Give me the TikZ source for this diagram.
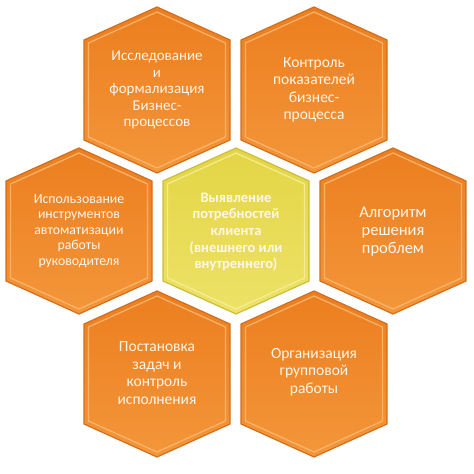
\documentclass[tikz,border=0pt]{standalone}
\usepackage{fontspec}
\setmainfont{Carlito}
\definecolor{orgtop}{HTML}{EC7E1F}
\definecolor{orgbot}{HTML}{F3963A}
\definecolor{orgline}{HTML}{D36F1C}
\definecolor{orgbevel}{HTML}{F9BC78}
\definecolor{yeltop}{HTML}{E4D545}
\definecolor{yelbot}{HTML}{EDE268}
\definecolor{yelline}{HTML}{CDBE3A}
\definecolor{yelbevel}{HTML}{F6F0A0}
\definecolor{txtcol}{HTML}{FFF6EA}
\newcommand\hexcell[4]{% cx, cy, colour prefix
  \shade[top color=#3top, bottom color=#3bot, draw=#3line, line width=1.2pt, line join=round]
    (#1,#2+83) -- (#1+73,#2+50) -- (#1+73,#2-50) -- (#1,#2-83) -- (#1-73,#2-50) -- (#1-73,#2+50) -- cycle;
  \draw[#3bevel, line width=1.3pt, line join=round, opacity=0.8]
    (#1,#2+78) -- (#1+68.5,#2+47) -- (#1+68.5,#2-47) -- (#1,#2-78) -- (#1-68.5,#2-47) -- (#1-68.5,#2+47) -- cycle;
}
\begin{document}
\begin{tikzpicture}[x=1pt,y=1pt,
  txt/.style={text=txtcol, align=center, inner sep=0pt}]
\useasboundingbox (0,0) rectangle (474,474);
\fill[white] (0,0) rectangle (474,474);
\hexcell{157}{384}{org}{}
\hexcell{314}{384}{org}{}
\hexcell{79}{243}{org}{}
\hexcell{236}{243}{yel}{}
\hexcell{393}{243}{org}{}
\hexcell{157}{100}{org}{}
\hexcell{314}{100}{org}{}
\node[txt, font=\fontsize{15}{16.5}\selectfont] (tl) at (157,384)
  {Исследование\\и\\формализация\\Бизнес-\\процессов};
\node[txt, font=\fontsize{15.5}{17.5}\selectfont] (tr) at (314,384)
  {Контроль\\показателей\\бизнес-\\процесса};
\node[txt, font=\fontsize{13.8}{15.5}\selectfont] (l) at (79,243)
  {Использование\\инструментов\\автоматизации\\работы\\руководителя};
\node[txt, font=\bfseries\fontsize{14.5}{16.7}\selectfont] (c) at (236,242)
  {Выявление\\потребностей\\клиента\\(внешнего или\\внутреннего)};
\node[txt, font=\fontsize{16.5}{18}\selectfont] (r) at (393,242)
  {Алгоритм\\решения\\проблем};
\node[txt, font=\fontsize{15.5}{17.5}\selectfont] (bl) at (157,101)
  {Постановка\\задач и\\контроль\\исполнения};
\node[txt, font=\fontsize{15.5}{17.5}\selectfont] (br) at (314,102)
  {Организация\\групповой\\работы};
\end{tikzpicture}
\end{document}
